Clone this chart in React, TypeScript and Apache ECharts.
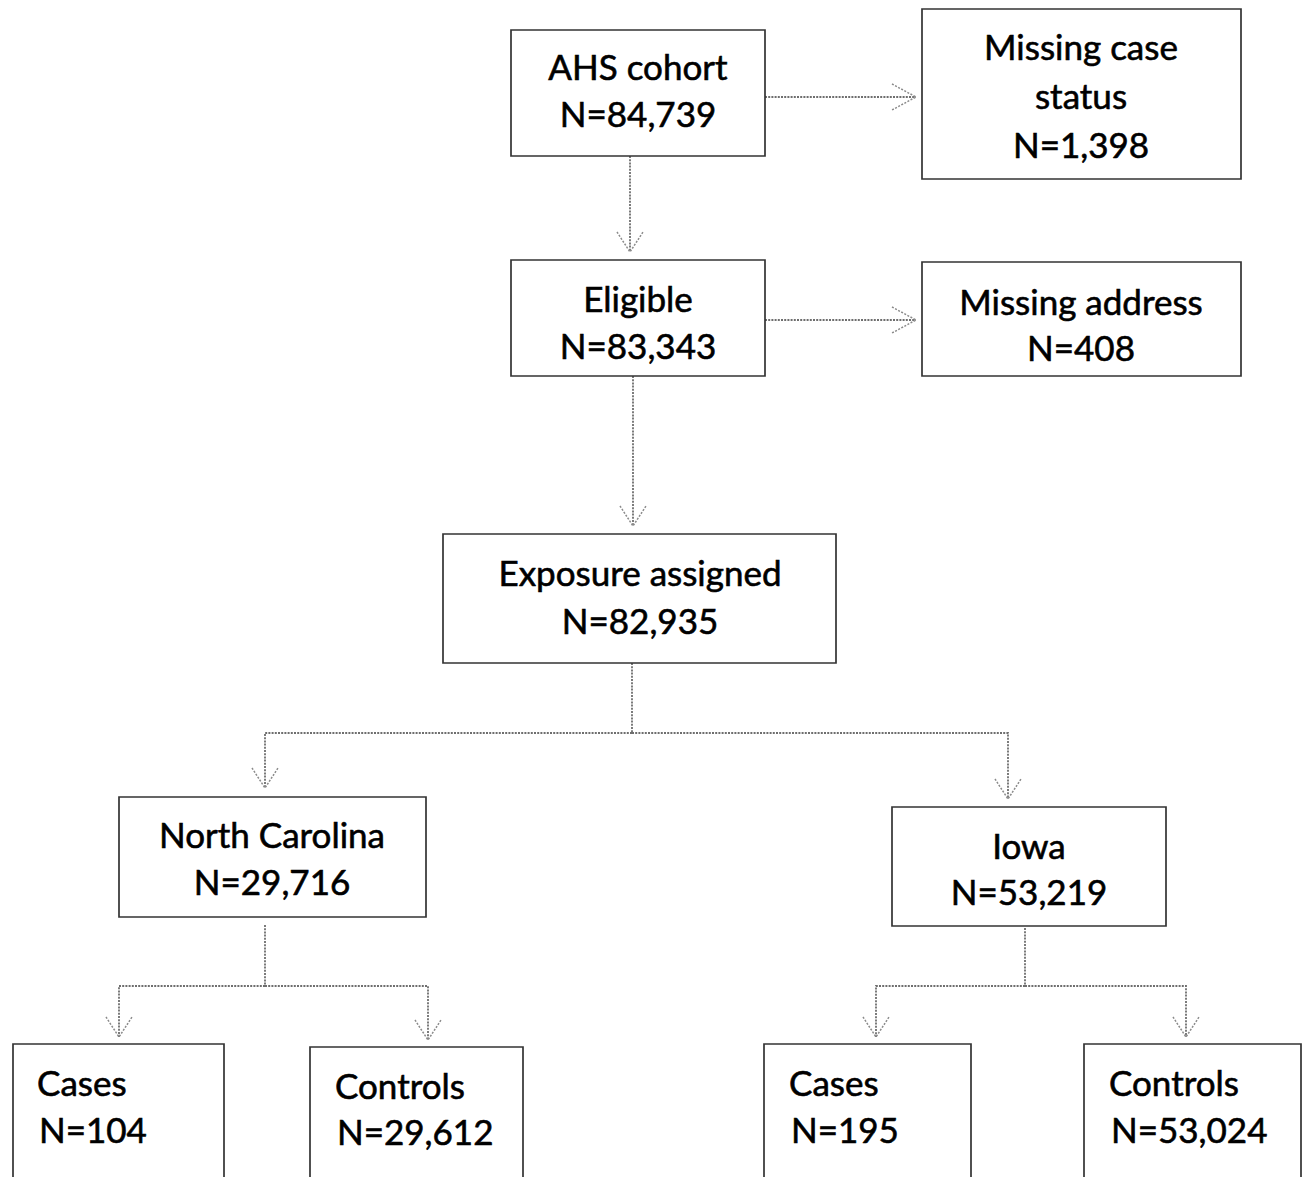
import React, { useEffect, useRef } from "react";
import * as echarts from "echarts";

// ---- data ----
const titles = [
  "AHS cohort",
  "Missing case\nstatus",
  "Eligible",
  "Missing address",
  "Exposure assigned",
  "North Carolina",
  "Iowa",
  "Cases",
  "Controls",
  "Cases",
  "Controls",
];
const counts = [84739, 1398, 83343, 408, 82935, 29716, 53219, 104, 29612, 195, 53024];

// ---- layout (positions only) ----
// [x, y, w, h, firstLineY, lineGap, align, textX]
type Box = [number, number, number, number, number, number, "center" | "left", number];
const boxes: Box[] = [
  [511, 30, 254, 126, 66, 47, "center", 638],
  [922, 9, 319, 170, 46, 49, "center", 1081],
  [511, 260, 254, 116, 298, 47, "center", 638],
  [922, 262, 319, 114, 301, 46, "center", 1081],
  [443, 534, 393, 129, 572, 48, "center", 640],
  [119, 797, 307, 120, 834, 47, "center", 272],
  [892, 807, 274, 119, 845, 46, "center", 1029],
  [13, 1044, 211, 200, 1082, 47, "left", 37],
  [310, 1047, 213, 200, 1085, 46, "left", 335],
  [764, 1044, 207, 200, 1082, 47, "left", 789],
  [1084, 1044, 217, 200, 1082, 47, "left", 1109],
];

// connectors: points, arrow direction at end ('r','d', or '')
type Conn = { pts: number[][]; arrow: "r" | "d" | "" };
const connectors: Conn[] = [
  { pts: [[765, 97], [916, 97]], arrow: "r" },
  { pts: [[765, 320], [916, 320]], arrow: "r" },
  { pts: [[630, 156], [630, 252]], arrow: "d" },
  { pts: [[633, 376], [633, 526]], arrow: "d" },
  { pts: [[632, 663], [632, 733]], arrow: "" },
  { pts: [[632, 733], [265, 733], [265, 788]], arrow: "d" },
  { pts: [[632, 733], [1008, 733], [1008, 799]], arrow: "d" },
  { pts: [[265, 925], [265, 986]], arrow: "" },
  { pts: [[265, 986], [119, 986], [119, 1037]], arrow: "d" },
  { pts: [[265, 986], [428, 986], [428, 1040]], arrow: "d" },
  { pts: [[1025, 928], [1025, 986]], arrow: "" },
  { pts: [[1025, 986], [876, 986], [876, 1037]], arrow: "d" },
  { pts: [[1025, 986], [1186, 986], [1186, 1037]], arrow: "d" },
];

const FONT = "Lato, 'Open Sans', sans-serif";
const LINE_COLOR = "#6e6e6e";

function buildGraphics() {
  const els: any[] = [];
  connectors.forEach((c) => {
    els.push({
      type: "polyline",
      shape: { points: c.pts },
      style: { stroke: LINE_COLOR, lineWidth: 1.8, lineDash: [2, 1.2], fill: null },
      silent: true,
    });
    const [tx, ty] = c.pts[c.pts.length - 1];
    let head: number[][] | null = null;
    if (c.arrow === "d") head = [[tx - 13, ty - 20], [tx, ty], [tx + 13, ty - 20]];
    if (c.arrow === "r") head = [[tx - 24, ty - 13], [tx, ty], [tx - 24, ty + 13]];
    if (head) {
      els.push({
        type: "polyline",
        shape: { points: head },
        style: { stroke: "#8a8a8a", lineWidth: 1.5, lineDash: [2, 1.5], fill: null },
        silent: true,
      });
    }
  });
  boxes.forEach((b, i) => {
    const [x, y, w, h, ly, gap, align, tx] = b;
    els.push({
      type: "rect",
      shape: { x, y, width: w, height: h },
      style: { fill: "#ffffff", stroke: "#333333", lineWidth: 1.7 },
      silent: true,
    });
    const lines = [...titles[i].split("\n"), "N=" + counts[i].toLocaleString("en-US")];
    lines.forEach((t, k) => {
      els.push({
        type: "text",
        x: align === "left" ? tx + (k === lines.length - 1 ? 2 : 0) : tx,
        y: ly + k * gap,
        style: {
          text: t,
          fill: "#000000",
          stroke: "#000000",
          lineWidth: 0.6,
          fontFamily: FONT,
          fontSize: 35,
          align: align,
          verticalAlign: "middle",
        },
        silent: true,
      });
    });
  });
  return els;
}

export default function App() {
  const ref = useRef<HTMLDivElement>(null);
  useEffect(() => {
    if (!ref.current) return;
    const chart = echarts.init(ref.current, null, { renderer: "svg" });
    chart.setOption({
      animation: false,
      backgroundColor: "#ffffff",
      graphic: { elements: buildGraphics() },
    });
    return () => chart.dispose();
  }, []);
  return (
    <div
      ref={ref}
      style={{ position: "fixed", left: 0, top: 0, width: 1306, height: 1177, background: "#fff" }}
    />
  );
}
